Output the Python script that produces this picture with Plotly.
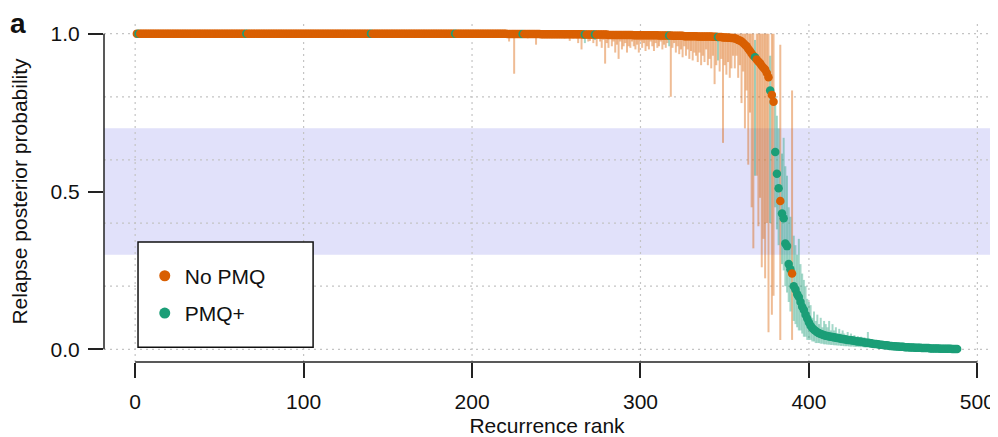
import plotly.graph_objects as go

# ---------------- data ----------------
N_RANKS = 488

# ranks 1-220: plateau
plateau_prob = [1.0] * 220
plateau_lo = [1.0] * 220
plateau_hi = [1.0] * 220

# ranks 221-355
mid_prob = [
    0.999, 0.999, 0.999, 0.999, 0.999, 0.999, 0.999, 0.999, 0.999, 0.999, 0.999, 0.999, 0.999, 0.999, 0.999,
    0.999, 0.999, 0.999, 0.999, 0.999, 0.998, 0.998, 0.998, 0.998, 0.998, 0.998, 0.998, 0.998, 0.998, 0.998,
    0.998, 0.998, 0.998, 0.998, 0.998, 0.998, 0.998, 0.998, 0.998, 0.998, 0.998, 0.998, 0.998, 0.998, 0.998,
    0.997, 0.997, 0.997, 0.997, 0.997, 0.997, 0.997, 0.997, 0.997, 0.997, 0.997, 0.997, 0.997, 0.997, 0.997,
    0.996, 0.996, 0.996, 0.996, 0.996, 0.996, 0.996, 0.996, 0.996, 0.996, 0.996, 0.996, 0.996, 0.996, 0.996,
    0.995, 0.995, 0.995, 0.995, 0.995, 0.995, 0.995, 0.995, 0.995, 0.995, 0.995, 0.995, 0.995, 0.995, 0.995,
    0.994, 0.994, 0.994, 0.994, 0.994, 0.994, 0.994, 0.994, 0.993, 0.993, 0.993, 0.993, 0.993, 0.993, 0.993,
    0.992, 0.992, 0.992, 0.992, 0.992, 0.992, 0.992, 0.992, 0.991, 0.991, 0.991, 0.991, 0.991, 0.991, 0.991,
    0.991, 0.991, 0.990, 0.990, 0.990, 0.989, 0.989, 0.989, 0.988, 0.988, 0.988, 0.987, 0.987, 0.986, 0.986,
]
mid_lo = [
    0.99, 0.975, 0.995, 0.99, 0.873, 0.995, 0.99, 0.995, 0.99, 0.995, 0.99, 0.995, 0.985, 0.995, 0.99,
    0.99, 0.995, 0.965, 0.99, 0.995, 0.99, 0.995, 0.99, 0.995, 0.995, 0.99, 0.995, 0.99, 0.995, 0.99,
    0.995, 0.99, 0.995, 0.99, 0.985, 0.99, 0.995, 0.977, 0.99, 0.985, 0.99, 0.985, 0.97, 0.99, 0.95,
    0.985, 0.97, 0.99, 0.975, 0.977, 0.985, 0.97, 0.98, 0.96, 0.985, 0.975, 0.955, 0.98, 0.905, 0.97,
    0.955, 0.985, 0.96, 0.975, 0.94, 0.965, 0.92, 0.975, 0.95, 0.96, 0.97, 0.94, 0.96, 0.955, 0.975,
    0.96, 0.95, 0.965, 0.94, 0.975, 0.955, 0.97, 0.945, 0.96, 0.95, 0.975, 0.96, 0.945, 0.97, 0.955,
    0.96, 0.975, 0.95, 0.965, 0.955, 0.97, 0.96, 0.80, 0.955, 0.97, 0.94, 0.96, 0.935, 0.95, 0.925,
    0.96, 0.93, 0.95, 0.92, 0.945, 0.915, 0.94, 0.93, 0.91, 0.94, 0.90, 0.93, 0.91, 0.95, 0.90,
    0.92, 0.89, 0.93, 0.84, 0.90, 0.915, 0.88, 0.92, 0.654, 0.90, 0.87, 0.91, 0.86, 0.89, 0.93,
]
mid_hi = [1.0] * 135

# ranks 356-400: the drop
drop_prob = [
    0.985, 0.983, 0.98, 0.978, 0.975, 0.97, 0.965, 0.96, 0.952, 0.945, 0.937, 0.93,
    0.925, 0.918, 0.912, 0.906, 0.898, 0.892, 0.886, 0.875, 0.862, 0.82, 0.806, 0.784,
    0.625, 0.556, 0.51, 0.47, 0.43, 0.415, 0.335, 0.327, 0.27, 0.254, 0.24, 0.20,
    0.19, 0.175, 0.166, 0.15, 0.135, 0.125, 0.11, 0.098, 0.085,
]
drop_lo = [
    0.89, 0.93, 0.86, 0.90, 0.78, 0.88, 0.70, 0.82, 0.585, 0.75, 0.45, 0.32,
    0.55, 0.55, 0.39, 0.48, 0.26, 0.35, 0.225, 0.40, 0.054, 0.40, 0.11, 0.17,
    0.45, 0.38, 0.33, 0.03, 0.27, 0.25, 0.20, 0.18, 0.15, 0.12, 0.03, 0.09,
    0.08, 0.07, 0.06, 0.06, 0.05, 0.04, 0.04, 0.03, 0.03,
]
drop_hi = [
    1.0, 1.0, 1.0, 1.0, 1.0, 1.0, 1.0, 1.0, 1.0, 1.0, 1.0, 1.0,
    0.98, 1.0, 1.0, 1.0, 1.0, 1.0, 1.0, 1.0, 1.0, 0.93, 1.0, 1.0,
    0.80, 0.74, 0.70, 0.965, 0.62, 0.67, 0.58, 0.55, 0.45, 0.42, 0.82, 0.36,
    0.33, 0.30, 0.35, 0.27, 0.24, 0.22, 0.20, 0.16, 0.15,
]

# ranks 401-488: tail
tail_prob = [
    0.075, 0.068, 0.062, 0.058, 0.054, 0.051, 0.049, 0.047, 0.045, 0.043,
    0.042, 0.041, 0.040, 0.039, 0.038, 0.037, 0.036, 0.035, 0.034, 0.033,
    0.032, 0.031, 0.030, 0.030, 0.029, 0.028, 0.027, 0.026, 0.025, 0.025,
    0.024, 0.023, 0.022, 0.021, 0.021, 0.020, 0.019, 0.018, 0.017, 0.017,
    0.016, 0.015, 0.015, 0.014, 0.013, 0.013, 0.012, 0.011, 0.011, 0.010,
    0.010, 0.009, 0.009, 0.008, 0.008, 0.008, 0.007, 0.007, 0.007, 0.006,
    0.006, 0.006, 0.005, 0.005, 0.005, 0.005, 0.004, 0.004, 0.004, 0.004,
    0.004, 0.003, 0.003, 0.003, 0.003, 0.003, 0.003, 0.002, 0.002, 0.002,
    0.002, 0.002, 0.002, 0.002, 0.001, 0.001, 0.001, 0.001,
]
tail_hi = [
    0.14, 0.10, 0.12, 0.09, 0.11, 0.08, 0.10, 0.07, 0.09, 0.08,
    0.07, 0.09, 0.06, 0.08, 0.06, 0.07, 0.05, 0.065, 0.05, 0.06,
    0.05, 0.045, 0.055, 0.04, 0.05, 0.04, 0.045, 0.038, 0.042, 0.035,
    0.04, 0.035, 0.038, 0.03, 0.055, 0.032, 0.03, 0.028, 0.03, 0.026,
    0.025, 0.024, 0.022, 0.022, 0.02, 0.019, 0.018, 0.017, 0.016, 0.015,
    0.015, 0.014, 0.013, 0.013, 0.012, 0.012, 0.011, 0.011, 0.010, 0.010,
    0.009, 0.009, 0.008, 0.008, 0.008, 0.007, 0.007, 0.007, 0.006, 0.006,
    0.006, 0.005, 0.005, 0.005, 0.005, 0.004, 0.004, 0.004, 0.004, 0.003,
    0.003, 0.003, 0.003, 0.003, 0.002, 0.002, 0.002, 0.002,
]
tail_lo = [
    0.03, 0.025, 0.025, 0.02, 0.02, 0.02, 0.018, 0.018, 0.016, 0.016,
    0.015, 0.015, 0.014, 0.014, 0.013, 0.013, 0.012, 0.012, 0.011, 0.011,
    0.010, 0.010, 0.010, 0.009, 0.009, 0.009, 0.008, 0.008, 0.008, 0.007,
    0.007, 0.007, 0.006, 0.006, 0.006, 0.006, 0.005, 0.005, 0.005, 0.005,
    0.005, 0.004, 0.004, 0.004, 0.004, 0.004, 0.003, 0.003, 0.003, 0.003,
    0.003, 0.003, 0.002, 0.002, 0.002, 0.002, 0.002, 0.002, 0.002, 0.002,
    0.001, 0.001, 0.001, 0.001, 0.001, 0.001, 0.001, 0.001, 0.001, 0.001,
    0.001, 0.001, 0.001, 0.001, 0.001, 0.001, 0.001, 0.001, 0.001, 0.001,
    0.001, 0.001, 0.001, 0.001, 0.0, 0.0, 0.0, 0.0,
]

# ranks that belong to the PMQ+ group (all others: No PMQ)
pmq_plus_ranks = [2, 66, 140, 190, 230, 267, 273, 317, 346, 368, 377,
                  380, 381, 382, 384, 385, 386, 387, 388, 389] + list(range(391, N_RANKS + 1))

group_names = ["No PMQ", "PMQ+"]
x_tick_vals = [0, 100, 200, 300, 400, 500]
y_tick_vals = [0.0, 0.5, 1.0]
y_tick_text = ["0.0", "0.5", "1.0"]
y_grid_vals = [0.0, 0.2, 0.4, 0.6, 0.8, 1.0]
band_range = [0.3, 0.7]

# ---------------- assemble ----------------
ranks = list(range(1, N_RANKS + 1))
prob = plateau_prob + mid_prob + drop_prob + tail_prob
lo = plateau_lo + mid_lo + drop_lo + tail_lo
hi = plateau_hi + mid_hi + drop_hi + tail_hi
assert len(prob) == len(lo) == len(hi) == N_RANKS

plus_set = set(pmq_plus_ranks)
is_plus = [r in plus_set for r in ranks]

ORANGE = "#D95F02"
TEAL = "#1B9E77"
ORANGE_BAR = "rgba(217,95,2,0.42)"
TEAL_BAR = "rgba(27,158,119,0.40)"
FONT = "Liberation Sans, Arial, Helvetica, sans-serif"

fig = go.Figure()


def bar_trace(want_plus, color):
    xs, ys, up, dn = [], [], [], []
    for r, p, l, h, g in zip(ranks, prob, lo, hi, is_plus):
        if g == want_plus:
            xs.append(r)
            ys.append(p)
            up.append(max(0.0, h - p))
            dn.append(max(0.0, p - l))
    return go.Scatter(
        x=xs, y=ys, mode="markers",
        marker=dict(size=2, opacity=0, color=color),
        error_y=dict(type="data", symmetric=False, array=up, arrayminus=dn,
                     color=color, thickness=2, width=0),
        showlegend=False, hoverinfo="skip",
    )


fig.add_trace(bar_trace(False, ORANGE_BAR))
fig.add_trace(bar_trace(True, TEAL_BAR))

fig.add_trace(go.Scatter(
    x=ranks, y=prob, mode="markers",
    marker=dict(size=8.5, color=[TEAL if g else ORANGE for g in is_plus], line=dict(width=0)),
    showlegend=False,
))

for name, col in zip(group_names, [ORANGE, TEAL]):
    fig.add_trace(go.Scatter(
        x=[None], y=[None], mode="markers", name=name, legendgroup=name,
        marker=dict(size=11, color=col),
    ))

shapes = []
# shaded band
shapes.append(dict(type="rect", xref="paper", yref="y", x0=0, x1=1,
                   y0=band_range[0], y1=band_range[1],
                   fillcolor="#E1E1FA", line=dict(width=0), layer="below"))
# gridlines
for yv in y_grid_vals:
    shapes.append(dict(type="line", xref="paper", yref="y", x0=0, x1=1, y0=yv, y1=yv,
                       line=dict(color="#C4C4C4", width=1.2, dash="2px,4px"), layer="below"))
for xv in x_tick_vals:
    shapes.append(dict(type="line", xref="x", yref="paper", x0=xv, x1=xv, y0=0, y1=1,
                       line=dict(color="#C4C4C4", width=1.2, dash="2px,4px"), layer="below"))
# axis lines (R style, spanning the tick range only)
shapes.append(dict(type="line", xref="paper", yref="y", x0=0, x1=0, y0=0, y1=1,
                   line=dict(color="#222222", width=1.5), layer="above"))
shapes.append(dict(type="line", xref="x", yref="paper", x0=0, x1=500, y0=0, y1=0,
                   line=dict(color="#222222", width=1.5), layer="above"))
# legend box
shapes.append(dict(type="rect", xref="paper", yref="paper",
                   x0=0.0384, x1=0.236, y0=0.043, y1=0.3516,
                   fillcolor="white", line=dict(color="#111111", width=1.5), layer="above"))

# the page body adds an 8 px offset: the figure is sized so that it fills the window
fig.update_layout(
    width=990, height=429,
    margin=dict(l=96, r=8, t=13, b=75, pad=0, autoexpand=False),
    paper_bgcolor="white", plot_bgcolor="white",
    font=dict(family=FONT, size=21, color="#111111"),
    shapes=shapes,
    showlegend=True,
    legend=dict(x=0.046, y=0.312, xanchor="left", yanchor="top",
                bgcolor="rgba(0,0,0,0)", borderwidth=0,
                font=dict(size=21), tracegroupgap=7),
    annotations=[dict(text="<b>a</b>", xref="paper", yref="paper",
                      x=-0.108, y=0.993, xanchor="left", yanchor="middle",
                      showarrow=False, font=dict(size=28, family=FONT, color="#111111"))],
)

fig.update_xaxes(
    range=[-18.5, 507.5], tickvals=x_tick_vals, ticks="outside", ticklen=15,
    tickwidth=1.5, tickcolor="#222222", showgrid=False, zeroline=False, showline=False,
    automargin=False, ticklabelstandoff=6,
    title=dict(text="Recurrence rank", standoff=8, font=dict(size=21)),
    tickfont=dict(size=21),
)
fig.update_yaxes(
    range=[-0.04, 1.04], tickvals=y_tick_vals, ticktext=y_tick_text, ticks="outside",
    ticklen=15, tickwidth=1.5, tickcolor="#222222", showgrid=False, zeroline=False,
    showline=False, automargin=False, ticklabelstandoff=4,
    title=dict(text="Relapse posterior probability", standoff=20, font=dict(size=21)),
    tickfont=dict(size=21),
)

fig.write_html("out.html")
